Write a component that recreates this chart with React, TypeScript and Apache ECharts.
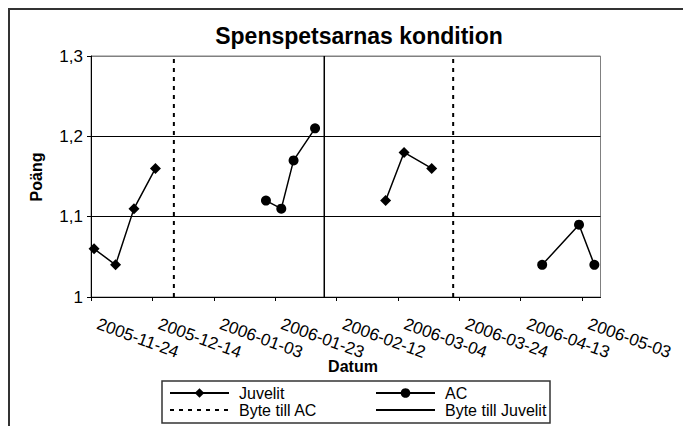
import { useEffect, useRef } from 'react';
import * as echarts from 'echarts';

// ---- Data ----
const START_DATE = '2005-11-24';
const AXIS_END_DAYS = 166;
const TICK_STEP_DAYS = 20;
const Y_MIN = 1;
const Y_MAX = 1.3;
const Y_STEP = 0.1;

const juvelitDates1 = ['2005-11-25', '2005-12-02', '2005-12-08', '2005-12-15'];
const juvelitValues1 = [1.06, 1.04, 1.11, 1.16];
const acDates1 = ['2006-01-20', '2006-01-25', '2006-01-29', '2006-02-05'];
const acValues1 = [1.12, 1.11, 1.17, 1.21];
const juvelitDates2 = ['2006-02-28', '2006-03-06', '2006-03-15'];
const juvelitValues2 = [1.12, 1.18, 1.16];
const acDates2 = ['2006-04-20', '2006-05-02', '2006-05-07'];
const acValues2 = [1.04, 1.09, 1.04];
const switchToAcDates = ['2005-12-21', '2006-03-22'];
const switchToJuvelitDates = ['2006-02-08'];

const TITLE = 'Spenspetsarnas kondition';
const X_NAME = 'Datum';
const Y_NAME = 'Poäng';

const FONT = '"Liberation Sans", Arial, Helvetica, sans-serif';
const DAY_MS = 86400000;

function toUTC(s: string) {
  const [y, m, d] = s.split('-').map(Number);
  return Date.UTC(y, m - 1, d);
}
const startMs = toUTC(START_DATE);
function dayOffset(s: string) {
  return Math.round((toUTC(s) - startMs) / DAY_MS);
}
function pad(n: number) {
  return n < 10 ? '0' + n : '' + n;
}
function fmtDate(days: number) {
  const dt = new Date(startMs + Math.round(days) * DAY_MS);
  return `${dt.getUTCFullYear()}-${pad(dt.getUTCMonth() + 1)}-${pad(dt.getUTCDate())}`;
}
function pairs(dates: string[], values: number[]) {
  return dates.map((d, i) => [dayOffset(d), values[i]]);
}
function vline(date: string) {
  const x = dayOffset(date);
  return [
    [x, Y_MIN],
    [x, Y_MAX],
  ];
}

export default function App() {
  const ref = useRef<HTMLDivElement>(null);

  useEffect(() => {
    if (!ref.current) return;
    const chart = echarts.init(ref.current, undefined, { renderer: 'svg' });

    const dataLine = (name: string, symbol: string, size: number, data: number[][]) => ({
      name,
      type: 'line',
      data,
      symbol,
      symbolSize: size,
      showSymbol: true,
      itemStyle: { color: '#000' },
      lineStyle: { color: '#000', width: 1.5 },
      z: 5,
    });

    const switchLine = (name: string, date: string, dashed: boolean) => ({
      name,
      type: 'line',
      data: vline(date),
      symbol: 'circle',
      symbolSize: 0,
      showSymbol: false,
      itemStyle: { color: 'rgba(0,0,0,0)', borderWidth: 0 },
      lineStyle: dashed
        ? { color: '#000', width: 2, type: [4, 5] }
        : { color: '#000', width: 1.5, type: 'solid' },
      z: 3,
    });

    const legendBase = {
      orient: 'horizontal',
      itemWidth: 59,
      itemHeight: 12,
      itemGap: 0,
      padding: 0,
      selectedMode: false,
      textStyle: { fontSize: 16, fontFamily: FONT, color: '#000', padding: [0, 0, 0, 5] },
    };

    const textStyle = (text: string, size: number) => ({
      text,
      font: `bold ${size}px ${FONT}`,
      fill: '#000',
      align: 'center',
      verticalAlign: 'middle',
      textAlign: 'center',
      textVerticalAlign: 'middle',
    });

    chart.setOption({
      animation: false,
      backgroundColor: '#fff',
      textStyle: { fontFamily: FONT },
      grid: {
        left: 91,
        top: 56,
        right: 82.5,
        bottom: 129,
        show: true,
        borderColor: '#808080',
        borderWidth: 1,
        backgroundColor: 'transparent',
      },
      xAxis: {
        type: 'value',
        min: 0,
        max: AXIS_END_DAYS,
        interval: TICK_STEP_DAYS,
        axisLine: { show: true, onZero: false, lineStyle: { color: '#000', width: 1 } },
        axisTick: { show: true, length: 4, lineStyle: { color: '#000' } },
        axisLabel: {
          rotate: -20,
          margin: 24,
          padding: [0, 0, 0, 7],
          fontSize: 17,
          color: '#000',
          fontFamily: FONT,
          showMaxLabel: false,
          formatter: (v: number) => fmtDate(v),
        },
        splitLine: { show: false },
      },
      yAxis: {
        type: 'value',
        min: Y_MIN,
        max: Y_MAX,
        interval: Y_STEP,
        axisLine: { show: true, lineStyle: { color: '#000', width: 1 } },
        axisTick: { show: true, length: 4, lineStyle: { color: '#000' } },
        axisLabel: {
          margin: 8,
          fontSize: 17,
          color: '#000',
          fontFamily: FONT,
          formatter: (v: number) => String(Math.round(v * 10) / 10).replace('.', ','),
        },
        splitLine: { show: true, lineStyle: { color: ['#000', '#000', '#000', '#808080'], width: 1 } },
      },
      legend: [
        { ...legendBase, data: ['Juvelit'], left: 169, top: 385 },
        { ...legendBase, data: ['AC'], left: 375, top: 385 },
        { ...legendBase, data: ['Byte till AC'], left: 169, top: 402 },
        { ...legendBase, data: ['Byte till Juvelit'], left: 375, top: 402 },
      ],
      series: [
        dataLine('Juvelit', 'diamond', 11, pairs(juvelitDates1, juvelitValues1)),
        dataLine('Juvelit', 'diamond', 11, pairs(juvelitDates2, juvelitValues2)),
        dataLine('AC', 'circle', 10, pairs(acDates1, acValues1)),
        dataLine('AC', 'circle', 10, pairs(acDates2, acValues2)),
        ...switchToAcDates.map((d) => switchLine('Byte till AC', d, true)),
        ...switchToJuvelitDates.map((d) => switchLine('Byte till Juvelit', d, false)),
      ],
      graphic: [
        {
          type: 'rect',
          shape: { x: 9, y: 9, width: 720, height: 520 },
          style: { fill: 'none', stroke: '#333', lineWidth: 2 },
          silent: true,
          z: 100,
        },
        {
          type: 'rect',
          shape: { x: 162, y: 381, width: 388, height: 42 },
          style: { fill: 'none', stroke: '#333', lineWidth: 1.5 },
          silent: true,
        },
        { type: 'text', x: 359, y: 36, style: textStyle(TITLE, 23), silent: true },
        { type: 'text', x: 36, y: 177, rotation: Math.PI / 2, style: textStyle(Y_NAME, 16), silent: true },
        { type: 'text', x: 353, y: 366, style: textStyle(X_NAME, 16), silent: true },
      ],
    });

    return () => {
      chart.dispose();
    };
  }, []);

  return (
    <div
      ref={ref}
      style={{ position: 'fixed', left: 0, top: 0, width: 683, height: 426, background: '#fff' }}
    />
  );
}
